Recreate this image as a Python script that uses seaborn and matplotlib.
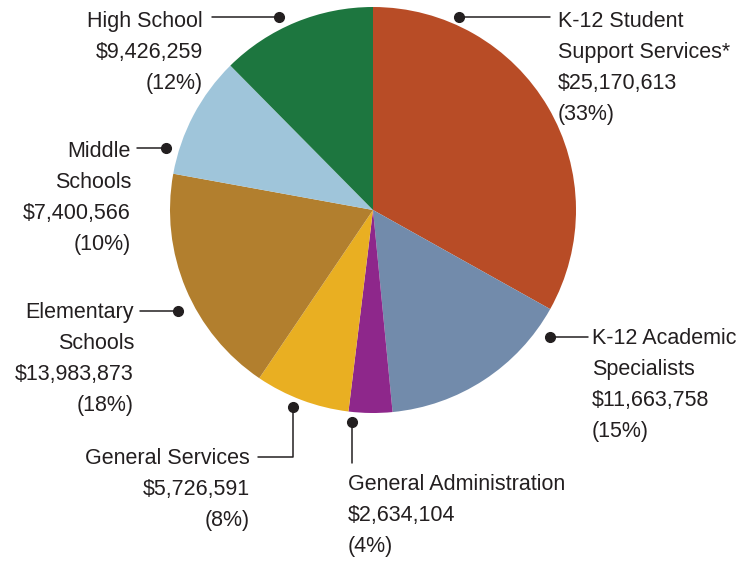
import matplotlib
matplotlib.use("Agg")
import matplotlib.pyplot as plt
import seaborn as sns

sns.set_theme(style="white")
plt.rcParams['font.family'] = ['Liberation Sans Narrow', 'Liberation Sans', 'DejaVu Sans']

# Budget data
categories = ["K-12 Student\nSupport Services*", "K-12 Academic\nSpecialists", "General Administration",
              "General Services", "Elementary\nSchools", "Middle\nSchools", "High School"]
amounts = [25170613, 11663758, 2634104, 5726591, 13983873, 7400566, 9426259]
percent_labels = ["33%", "15%", "4%", "8%", "18%", "10%", "12%"]
colors = ["#B84C26", "#728BAB", "#8E278B", "#E9AF22", "#B27F2E", "#9FC5DA", "#1D763F"]

W, H = 756, 562
TXT = "#231F20"


def py(y):
    # convert image row to data y
    return H - y


fig = plt.figure(figsize=(W / 100, H / 100), dpi=100)
ax = fig.add_axes([0, 0, 1, 1])

ax.pie(amounts, colors=colors, startangle=90, counterclock=False,
       center=(373, py(210)), radius=203, wedgeprops=dict(linewidth=0))

# pie() resets limits, so set them afterwards
ax.set_xlim(0, W)
ax.set_ylim(0, H)
ax.set_aspect("equal")
ax.axis("off")

# label layout: text anchor, alignment, leader path (dot first)
layout = [
    dict(xy=(558, 11), ha="left", path=[(459, 17), (550, 17)]),
    dict(xy=(592, 328), ha="left", path=[(550, 337), (588, 337)]),
    dict(xy=(348, 474), ha="left", path=[(352, 422), (352, 463)]),
    dict(xy=(250, 448), ha="right", path=[(293, 407), (293, 457), (258, 457)]),
    dict(xy=(134, 302), ha="right", path=[(178, 311), (140, 311)]),
    dict(xy=(131, 141), ha="right", path=[(166, 148), (137, 148)]),
    dict(xy=(203, 11), ha="right", path=[(279, 17), (212, 17)]),
]

for cat, amt, pct, lay in zip(categories, amounts, percent_labels, layout):
    label = f"{cat}\n${amt:,}\n({pct})"
    tx, ty = lay["xy"]
    ax.text(tx, py(ty), label, ha=lay["ha"], va="top", fontsize=15.5,
            color=TXT, linespacing=1.62, multialignment=lay["ha"])
    xs = [p[0] for p in lay["path"]]
    ys = [py(p[1]) for p in lay["path"]]
    ax.plot(xs, ys, color=TXT, linewidth=1.1)
    ax.plot(xs[0], ys[0], "o", color=TXT, markersize=7)

fig.savefig("out.png", dpi=100)
